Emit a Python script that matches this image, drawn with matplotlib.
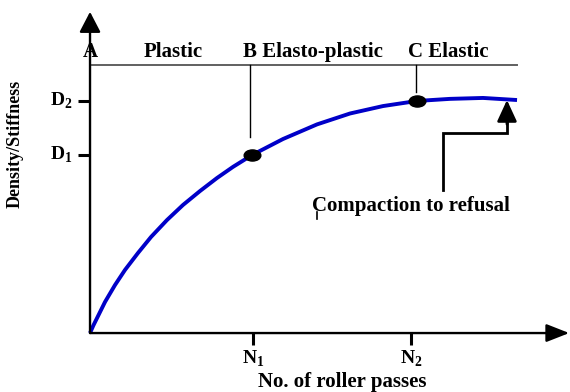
import matplotlib
matplotlib.use("Agg")
import matplotlib.pyplot as plt
from matplotlib.path import Path
from matplotlib.transforms import Affine2D

plt.rcParams["font.family"] = ["Liberation Serif", "DejaVu Serif"]
plt.rcParams["font.weight"] = "bold"
plt.rcParams["mathtext.fontset"] = "custom"
plt.rcParams["mathtext.rm"] = "Liberation Serif:bold"
plt.rcParams["mathtext.bf"] = "Liberation Serif:bold"

# compaction curve (passes, relative density)
passes = [0, 0.06, 0.147, 0.276, 0.460, 0.644, 0.883, 1.123, 1.417, 1.712,
          2.025, 2.337, 2.632, 2.982, 3.552, 4.178, 4.786, 5.393, 6.019,
          6.626, 7.234, 7.860]
density = [0, 0.032, 0.073, 0.134, 0.207, 0.272, 0.345, 0.414, 0.487, 0.552,
           0.612, 0.668, 0.716, 0.767, 0.836, 0.899, 0.946, 0.978, 1.0,
           1.009, 1.013, 1.004]

# marked points B and C
pt_x = [2.98, 6.02]
pt_y = [0.767, 1.0]

# tick labels
x_ticks = [3.0, 5.91]
x_labels = [r"$\mathbf{N}_{\mathbf{1}}$", r"$\mathbf{N}_{\mathbf{2}}$"]
y_ticks = [1.0, 0.767]
y_labels = [r"$\mathbf{D}_{\mathbf{2}}$", r"$\mathbf{D}_{\mathbf{1}}$"]

# zone boundary level and zone labels
zone_y = 1.155
zone_names = ["A", "Plastic", "B Elasto-plastic", "C Elastic"]
zone_x = [0.0, 1.528, 2.816, 5.853]
zone_ha = ["center", "center", "left", "left"]

fig = plt.figure(figsize=(5.7, 3.92), dpi=100)
ax = fig.add_axes([0, 0, 1, 1])
ax.set_xlim(-1.657, 8.835)
ax.set_ylim(-0.254, 1.435)
ax.axis("off")

# axes with arrow heads
ax.annotate("", xy=(0, 1.384), xytext=(0, 0),
            arrowprops=dict(arrowstyle="-|>,head_length=1.25,head_width=0.65",
                            color="black", lw=1.7, shrinkA=0, shrinkB=0,
                            mutation_scale=10))
ax.annotate("", xy=(8.82, 0), xytext=(0, 0),
            arrowprops=dict(arrowstyle="-|>,head_length=1.4,head_width=0.55",
                            color="black", lw=1.7, shrinkA=0, shrinkB=0,
                            mutation_scale=10))

# ticks and tick labels
for x, lab in zip(x_ticks, x_labels):
    ax.plot([x, x], [0, -0.052], color="black", lw=2.2, solid_capstyle="butt")
    ax.text(x, -0.11, lab, ha="center", va="center", fontsize=14)
for y, lab in zip(y_ticks, y_labels):
    ax.plot([-0.22, 0], [y, y], color="black", lw=2.2, solid_capstyle="butt")
    ax.text(-0.33, y, lab, ha="right", va="center", fontsize=14)

# zone line and labels
ax.plot([0.03, 7.86], [zone_y, zone_y], color="#606060", lw=1.4)
for x, name, ha in zip(zone_x, zone_names, zone_ha):
    ax.text(x, 1.19, name, ha=ha, va="baseline", fontsize=15)

# leader lines from B and C
ax.plot([pt_x[0] - 0.03, pt_x[0] - 0.03], [zone_y, 0.845], color="black", lw=1)
ax.plot([pt_x[1] - 0.02, pt_x[1] - 0.02], [zone_y, 1.039], color="black", lw=1)

# curve and points
ax.plot(passes, density, color="#0000c8", lw=2.8, solid_capstyle="butt",
        solid_joinstyle="round")
ellipse = Path.unit_circle().transformed(Affine2D().scale(1.5, 1.0))
ax.plot(pt_x, pt_y, linestyle="none", marker=ellipse, markersize=12,
        color="black")

# compaction to refusal pointer
ax.plot([6.50, 6.50, 7.675, 7.675], [0.616, 0.862, 0.862, 0.93],
        color="black", lw=2.0, solid_joinstyle="miter")
ax.annotate("", xy=(7.675, 1.004), xytext=(7.675, 0.90),
            arrowprops=dict(arrowstyle="-|>,head_length=1.3,head_width=0.6",
                            color="black", lw=2.0, shrinkA=0, shrinkB=0,
                            mutation_scale=10))
ax.text(5.908, 0.547, "Compaction to refusal", ha="center", va="center",
        fontsize=15)
ax.plot([4.17, 4.17], [0.49, 0.522], color="black", lw=1.2)

# axis titles
ax.text(-1.38, 0.815, "Density/Stiffness", rotation=90, ha="center",
        va="center", fontsize=13)
ax.text(4.65, -0.233, "No. of roller passes", ha="center", va="baseline",
        fontsize=15)

fig.savefig("out.png", dpi=100)
